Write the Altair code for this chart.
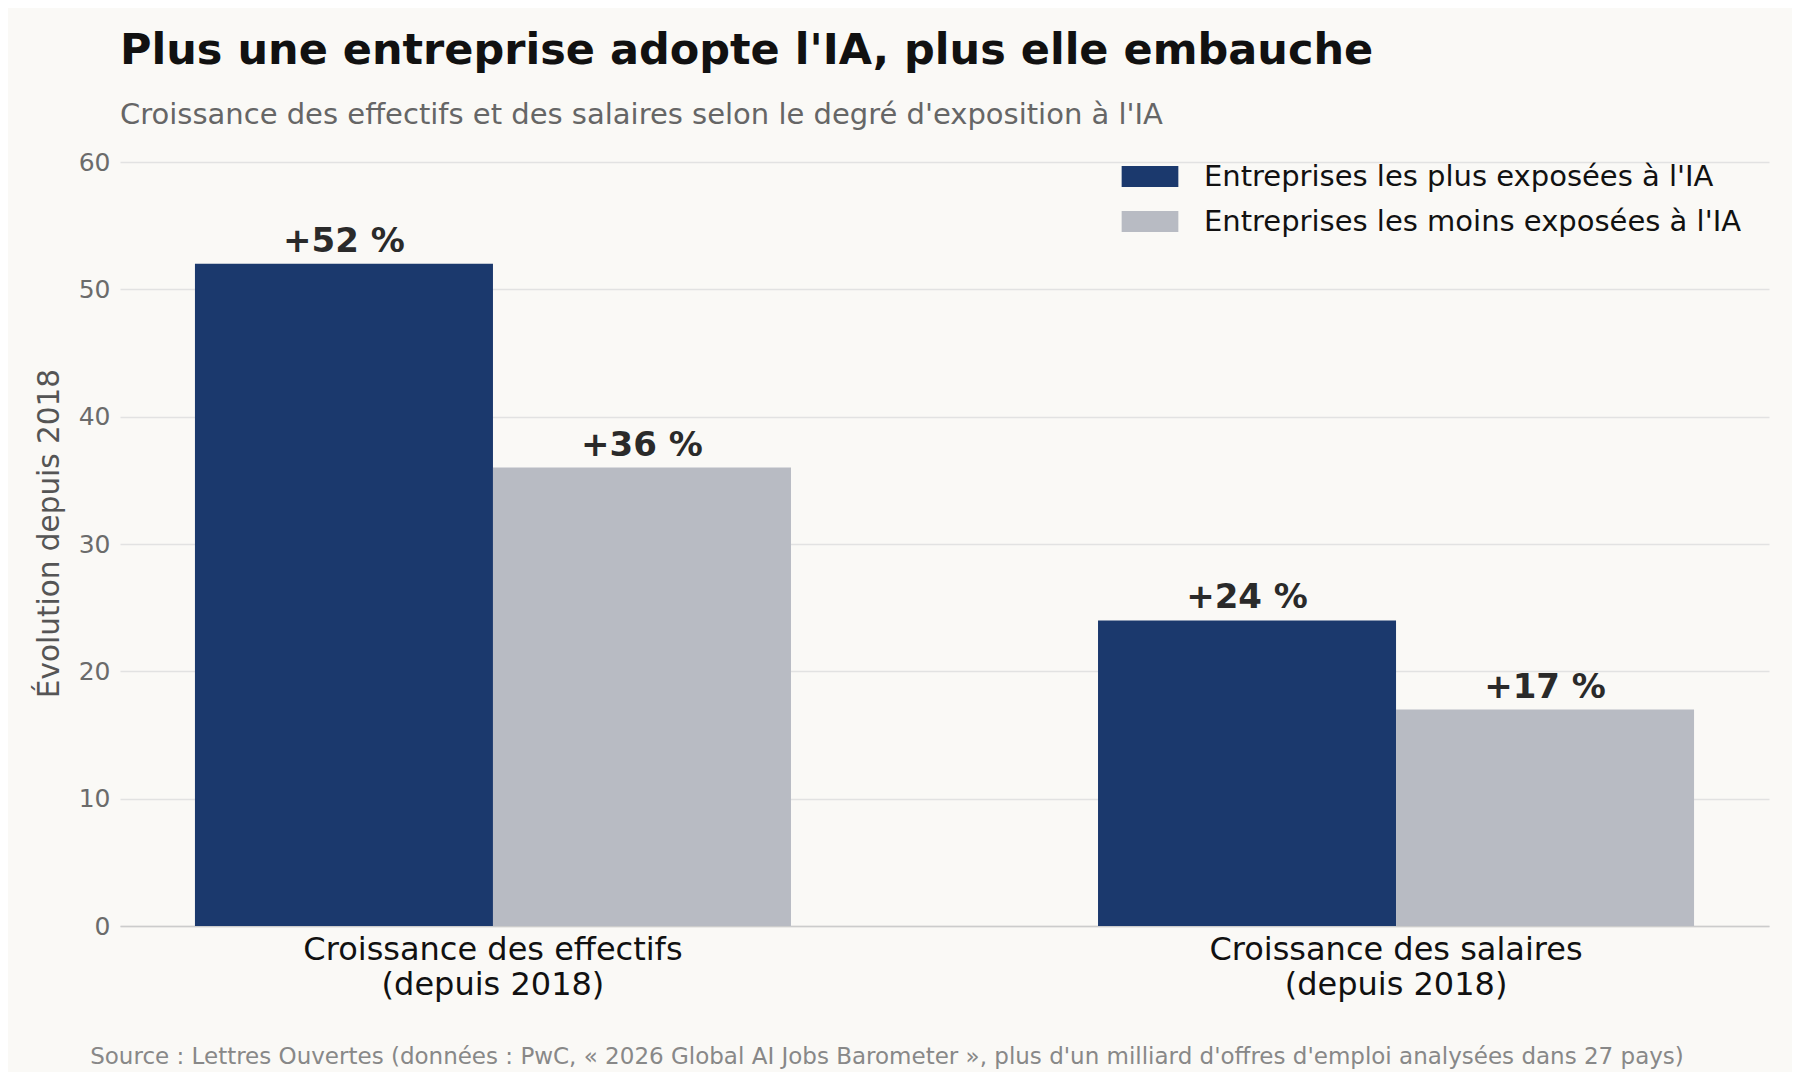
import altair as alt
import pandas as pd

categories = ["Croissance des effectifs\n(depuis 2018)", "Croissance des salaires\n(depuis 2018)"]
series = ["Entreprises les plus exposées à l'IA", "Entreprises les moins exposées à l'IA"]
most_exposed = [52, 24]
least_exposed = [36, 17]
colors = ["#1b396d", "#b8bbc3"]
y_ticks = [0, 10, 20, 30, 40, 50, 60]
title = "Plus une entreprise adopte l'IA, plus elle embauche"
subtitle = "Croissance des effectifs et des salaires selon le degré d'exposition à l'IA"
y_title = "Évolution depuis 2018"
source = ("Source : Lettres Ouvertes (données : PwC, « 2026 Global AI Jobs Barometer », "
          "plus d'un milliard d'offres d'emploi analysées dans 27 pays)")

rows = []
for i, c in enumerate(categories):
    for s, vals in zip(series, [most_exposed, least_exposed]):
        rows.append({"categorie": c, "serie": s, "valeur": vals[i], "label": f"+{vals[i]} %"})
df = pd.DataFrame(rows)

FONT = "DejaVu Sans"

x_enc = alt.X(
    "categorie:N", sort=categories,
    scale=alt.Scale(paddingInner=0.34, paddingOuter=0.083),
    axis=alt.Axis(title=None, labelExpr="split(datum.label, '\\n')", labelAngle=0,
                  labelFontSize=32, labelColor="#111111", labelLineHeight=35,
                  labelPadding=8, labelLimit=0, ticks=False, domainColor="#cccccc",
                  domainWidth=1.5, grid=False, labelFont=FONT),
)
xo_enc = alt.XOffset("serie:N", sort=series, scale=alt.Scale(paddingInner=0, paddingOuter=0))
y_enc = alt.Y(
    "valeur:Q", scale=alt.Scale(domain=[0, 60], nice=False),
    axis=alt.Axis(values=y_ticks, title=y_title, titleFontSize=29.5, titleColor="#555555",
                  titleFontWeight="normal", titlePadding=14, titleFont=FONT, titleY=371,
                  labelFontSize=25, labelColor="#6b6b6b", labelPadding=10, labelFont=FONT,
                  domain=False, ticks=False, gridColor="#e2e2e2", gridWidth=1.3),
)

base = alt.Chart(df)

bars = base.mark_bar().encode(
    x=x_enc, xOffset=xo_enc, y=y_enc,
    color=alt.Color(
        "serie:N", sort=series,
        scale=alt.Scale(domain=series, range=colors),
        legend=alt.Legend(title=None, orient="none", legendX=1015.5, legendY=0,
                          symbolType="M-2.7,-1H2.7V1H-2.7Z", symbolSize=441,
                          symbolStrokeWidth=0, symbolOpacity=1,
                          labelFontSize=29, labelColor="#111111", labelFont=FONT,
                          labelOffset=39.5, rowPadding=15, padding=0, labelLimit=900),
    ),
)

texts = base.mark_text(font=FONT, fontSize=34, fontWeight="bold", color="#2a2a2a",
                       baseline="alphabetic", dy=-12).encode(
    x=x_enc, xOffset=xo_enc, y=y_enc, text="label:N"
)

src = alt.Chart(pd.DataFrame({"t": [source]})).mark_text(
    font=FONT, fontSize=23, color="#888888", align="center", baseline="alphabetic"
).encode(x=alt.value(767), y=alt.value(902), text="t:N")

chart = alt.layer(bars, texts, src).properties(
    width=1649, height=764,
    title=alt.TitleParams(text=title, subtitle=subtitle, anchor="start", frame="group",
                          font=FONT, fontSize=43, fontWeight="bold", color="#111111",
                          subtitleFont=FONT, subtitleFontSize=29, subtitleColor="#666666",
                          subtitlePadding=28, offset=20),
    autosize=alt.AutoSizeParams(type="none"),
    padding={"left": 112, "top": 154, "right": 23, "bottom": 146},
).configure(background="#faf9f6", font=FONT).configure_view(stroke="transparent")

chart.save("out.html", embed_options={"renderer": "svg", "actions": False})
